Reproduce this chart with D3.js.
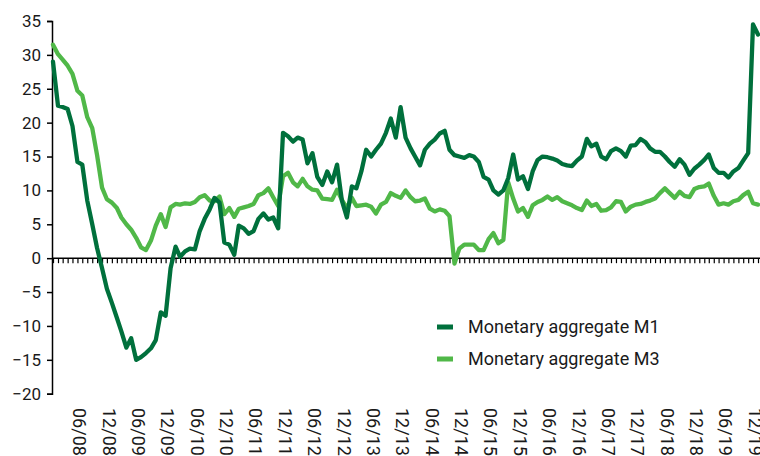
<!DOCTYPE html>
<html>
<head>
<meta charset="utf-8">
<script src="https://cdn.jsdelivr.net/npm/d3@7"></script>
<style>
  body { margin: 0; background: #fff; }
  text { font-family: Roboto, "Liberation Sans", sans-serif; fill: #1a1a1a; }
</style>
</head>
<body>
<div id="chart"></div>
<script>
var width = 760;
var height = 456;

// monthly observations, January 2008 to January 2020 (annual growth, %)
var firstMonth = new Date(2008, 0, 1);
var lastMonth = new Date(2020, 0, 1);

var m1 = [
  29.0, 22.5, 22.3, 22.0, 19.5, 14.2, 13.8, 8.5, 5.0, 1.5,
  -1.5, -4.5, -6.6, -8.8, -10.8, -13.2, -11.8, -15.0, -14.6, -14.0,
  -13.3, -12.1, -8.0, -8.5, -1.5, 1.7, 0.2, 1.0, 1.4, 1.3,
  4.0, 5.8, 7.2, 8.9, 8.2, 2.3, 2.0, 0.5, 4.8, 4.4,
  3.6, 4.0, 5.8, 6.6, 5.7, 6.0, 4.4, 18.5, 18.0, 17.2,
  17.8, 17.5, 14.0, 15.5, 12.0, 10.8, 12.8, 11.2, 13.8, 8.5,
  6.0, 10.6, 10.3, 12.8, 16.0, 15.0, 16.0, 16.9, 18.5, 20.6,
  17.8, 22.3, 17.8, 16.2, 15.0, 13.7, 16.0, 16.9, 17.5, 18.4,
  18.8, 16.0, 15.2, 15.0, 14.8, 15.2, 15.0, 14.2, 12.0, 11.6,
  10.0, 9.4, 10.0, 11.8, 15.3, 11.6, 12.1, 10.2, 12.8, 14.5,
  15.0, 14.9, 14.7, 14.4, 13.9, 13.7, 13.6, 14.4, 15.0, 17.6,
  16.5, 16.9, 15.0, 14.6, 15.8, 16.2, 15.8, 15.0, 16.6, 16.7,
  17.6, 17.1, 16.2, 15.7, 15.7, 15.0, 14.2, 13.5, 14.6, 13.8,
  12.3, 13.2, 13.8, 14.5, 15.3, 13.3, 12.6, 12.6, 11.9, 12.8,
  13.3, 14.4, 15.5, 34.5, 33.0
];

var m3 = [
  31.5, 30.1, 29.3, 28.4, 27.2, 24.7, 24.0, 20.8, 19.2, 15.2,
  10.4, 8.7, 8.2, 7.4, 6.0, 5.0, 4.2, 3.0, 1.6, 1.2,
  2.6, 4.8, 6.5, 4.6, 7.5, 8.0, 7.9, 8.1, 8.0, 8.3,
  9.0, 9.3, 8.5, 8.4, 9.1, 6.5, 7.4, 6.1, 7.3, 7.5,
  7.7, 8.0, 9.3, 9.6, 10.3, 9.0, 7.7, 12.1, 12.6, 11.2,
  10.6, 11.7, 10.6, 10.1, 10.0, 8.8, 8.7, 8.6, 10.1, 8.6,
  7.4, 8.9, 7.7, 7.8, 7.9, 7.6, 6.6, 7.9, 8.3, 9.6,
  9.2, 8.9, 10.0, 9.0, 8.4, 8.5, 8.8, 7.3, 6.9, 7.2,
  7.0, 6.2, -0.8, 1.4, 2.0, 2.0, 2.0, 1.2, 1.2, 2.8,
  3.7, 2.2, 2.7, 11.2, 8.8, 6.9, 7.4, 6.1, 7.8, 8.3,
  8.6, 9.1, 8.6, 9.0, 8.4, 8.1, 7.8, 7.4, 7.1, 8.5,
  7.7, 8.0, 7.0, 7.1, 7.5, 8.4, 8.3, 6.9, 7.6, 7.9,
  8.0, 8.3, 8.5, 8.8, 9.6, 10.3, 9.6, 8.9, 9.8, 9.2,
  9.0, 10.2, 10.5, 10.6, 11.0, 9.2, 7.9, 8.1, 7.9, 8.4,
  8.6, 9.3, 9.8, 8.1, 7.9
];

var yTicks = [35, 30, 25, 20, 15, 10, 5, 0, -5, -10, -15, -20];
var xTickLabels = ['06/08', '12/08', '06/09', '12/09', '06/10', '12/10', '06/11', '12/11',
  '06/12', '12/12', '06/13', '12/13', '06/14', '12/14', '06/15', '12/15', '06/16',
  '12/16', '06/17', '12/17', '06/18', '12/18', '06/19', '12/19'];

var seriesNames = ['Monetary aggregate M1', 'Monetary aggregate M3'];
var colors = ['#00703c', '#50b848'];

var months = d3.timeMonth.range(firstMonth, d3.timeMonth.offset(lastMonth, 1));
var series = [m1, m3].map(function(values, k) {
  return {
    name: seriesNames[k],
    color: colors[k],
    points: values.map(function(v, i) { return { date: months[i], value: v }; })
  };
});

var svg = d3.select('#chart')
  .append('svg')
  .attr('width', width)
  .attr('height', height);

var x = d3.scaleTime()
  .domain([firstMonth, lastMonth])
  .range([53, 758]);

var y = d3.scaleLinear()
  .domain([-20, 35])
  .range([393.7, 21]);

var parseLabel = d3.timeParse('%m/%y');

// y axis
var yAxis = svg.append('g')
  .attr('transform', 'translate(52,0)')
  .call(d3.axisLeft(y).tickValues(yTicks).tickSize(5).tickPadding(6));
yAxis.select('.domain').attr('stroke', '#000').attr('stroke-width', 1.5);
yAxis.selectAll('.tick line').attr('stroke', '#000').attr('stroke-width', 1.5);
yAxis.selectAll('.tick text')
  .style('font-size', '17px')
  .attr('fill', '#1a1a1a');

// x axis along zero with monthly ticks
var xAxis = svg.append('g')
  .attr('transform', 'translate(0,' + y(0) + ')')
  .call(d3.axisBottom(x).tickValues(months).tickSize(5).tickFormat(''));
xAxis.select('.domain').attr('stroke', '#000').attr('stroke-width', 1.5)
  .attr('d', 'M52,0H760');
xAxis.selectAll('.tick line').attr('stroke', '#000').attr('stroke-width', 1.2);

// rotated date labels below the plot
svg.append('g')
  .selectAll('text')
  .data(xTickLabels)
  .enter().append('text')
  .attr('transform', function(d) {
    return 'translate(' + (x(parseLabel(d)) + 2) + ',408) rotate(90)';
  })
  .attr('dy', '0.35em')
  .style('font-size', '18px')
  .text(function(d) { return d; });

// lines
var line = d3.line()
  .x(function(d) { return x(d.date); })
  .y(function(d) { return y(d.value); });

svg.append('g')
  .selectAll('path')
  .data(series.slice().reverse())
  .enter().append('path')
  .attr('d', function(d) { return line(d.points); })
  .attr('fill', 'none')
  .attr('stroke', function(d) { return d.color; })
  .attr('stroke-width', 4.3)
  .attr('stroke-linejoin', 'round')
  .attr('stroke-linecap', 'round');

// legend
var legend = svg.append('g')
  .selectAll('g')
  .data(series)
  .enter().append('g')
  .attr('transform', function(d, i) { return 'translate(437,' + (327 + i * 32) + ')'; });

legend.append('rect')
  .attr('x', 0)
  .attr('y', -2.5)
  .attr('width', 16)
  .attr('height', 5)
  .attr('fill', function(d) { return d.color; });

legend.append('text')
  .attr('x', 31)
  .attr('dy', '0.35em')
  .style('font-size', '18px')
  .text(function(d) { return d.name; });
</script>
</body>
</html>
